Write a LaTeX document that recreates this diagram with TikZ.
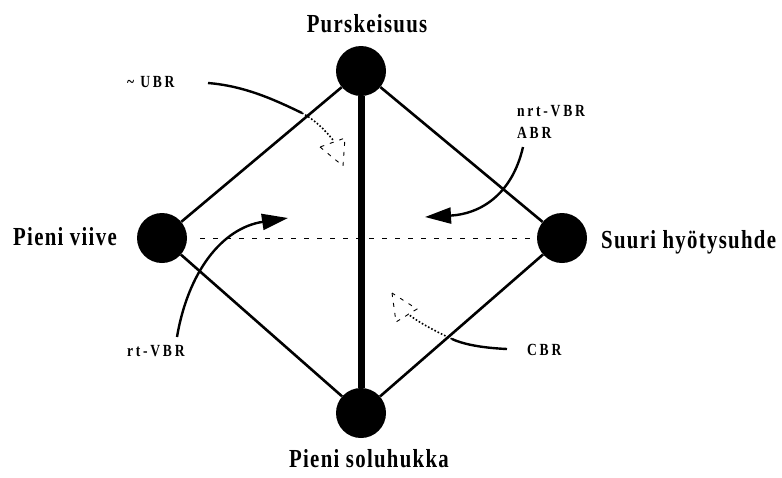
\documentclass[tikz,border=0pt]{standalone}
\usepackage{fontspec}
\setmainfont{Liberation Serif}
\newfontfamily\bigfont{Liberation Serif}[FakeStretch=0.8,LetterSpace=5]
\newfontfamily\smallfont{Liberation Serif}[FakeStretch=0.8,LetterSpace=16]
\usetikzlibrary{arrows.meta}

\tikzset{
  dot/.style={circle, fill=black, draw=none, minimum size=50pt, inner sep=0pt},
  edge/.style={line width=2.6pt},
  biglabel/.style={font=\bigfont\bfseries\fontsize{26}{30}\selectfont, inner sep=0pt},
  smalllabel/.style={font=\smallfont\bfseries\fontsize{17}{20}\selectfont, inner sep=0pt},
  curveline/.style={line width=2.4pt},
  fadeline/.style={line width=1.6pt, dotted},
  ghosthead/.style={line width=0.9pt, dash pattern=on 4pt off 6pt},
  arrowed/.style={-{Triangle[length=26pt,width=16pt]}}
}

\begin{document}
\begin{tikzpicture}[x=1pt,y=-1pt]
                      \useasboundingbox (0,0) rectangle (782,477);
                      % Draw the four corners
                      \node[dot] (top) at (361,71) {};
                      \node[dot] (left) at (162,238) {};
                      \node[dot] (right) at (562,238) {};
                      \node[dot] (bot) at (361,413) {};
                      % Diamond and axes
                      \draw[edge] (top) -- (left) -- (bot) -- (right) -- (top);
                      \draw[line width=7pt] (top) -- (bot);
                      \draw[line width=0.8pt, dash pattern=on 5pt off 8pt] (left.east) ++(13,0) -- (right.west);
                      % Corner labels
                      \node[biglabel, anchor=base] (burst) at (367,32) {Purskeisuus};
                      \node[biglabel, anchor=base west] (delay) at (13,245) {Pieni viive};
                      \node[biglabel, anchor=base west] (gain) at (601,248) {Suuri hyötysuhde};
                      \node[biglabel, anchor=base] (loss) at (369,467) {Pieni soluhukka};
                      % Service classes
                      \node[smalllabel, anchor=base west] (ubr) at (127,87) {\textasciitilde\ UBR};
                      \node[smalllabel, anchor=base west] (nrt) at (517,116) {nrt-VBR};
                      \node[smalllabel, anchor=base west] (abr) at (517,138) {ABR};
                      \node[smalllabel, anchor=base west] (rt) at (127,356) {rt-VBR};
                      \node[smalllabel, anchor=base west] (cbr) at (527,355) {CBR};
                      % Arrows
                      \coordinate (nrtA) at (523,147);
                      \coordinate (nrtB) at (425,217);
                      \draw[curveline, arrowed] (nrtA) .. controls (512,195) and (480,214) .. (nrtB);
                      \coordinate (rtA) at (177,337);
                      \coordinate (rtB) at (288,218);
                      \draw[curveline, arrowed] (rtA) .. controls (188,272) and (222,228) .. (rtB);
                      % UBR fades out past the edge
                      \coordinate (ubrA) at (208,83);
                      \coordinate (ubrX) at (302,113);
                      \coordinate (ubrB) at (333,140);
                      \draw[curveline] (ubrA) .. controls (245,86) and (275,100) .. (ubrX);
                      \draw[fadeline] (ubrX) .. controls (315,120) and (325,130) .. (ubrB);
                      \draw[ghosthead] (320,147) -- (343,166) -- (345,138) -- cycle;
                      % CBR fades out the same way
                      \coordinate (cbrA) at (507,349);
                      \coordinate (cbrX) at (452,339);
                      \coordinate (cbrB) at (408,314);
                      \draw[curveline] (cbrA) .. controls (485,348) and (465,345) .. (cbrX);
                      \draw[fadeline] (cbrX) .. controls (435,331) and (418,322) .. (cbrB);
                      \draw[ghosthead] (392,293) -- (396,322) -- (417,309) -- cycle;
                  \end{tikzpicture}
\end{document}
